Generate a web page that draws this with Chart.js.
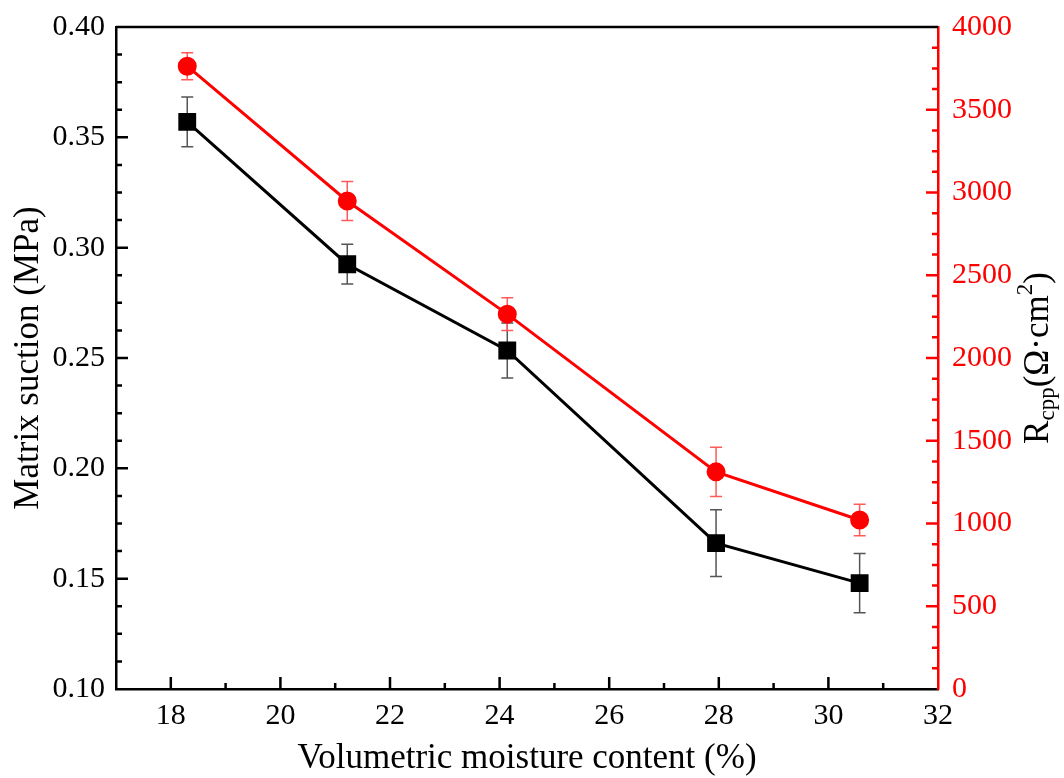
<!DOCTYPE html>
<html>
<head>
<meta charset="utf-8">
<title>Matrix suction and Rcpp vs moisture</title>
<script src="https://cdn.jsdelivr.net/npm/chart.js@4/dist/chart.umd.min.js"></script>
<style>
  html, body { margin: 0; padding: 0; background: #fff; }
  #wrap { width: 1064px; height: 778px; }
</style>
</head>
<body>
<div id="wrap"><canvas id="chart" width="1064" height="778"></canvas></div>
<script>
/* data ------------------------------------------------------------ */
const moisture    = [18.30, 21.22, 24.14, 27.95, 30.57];   // %
const suction     = [0.357, 0.2925, 0.2534, 0.1661, 0.148]; // MPa
const suctionErr  = [0.0113, 0.0090, 0.0125, 0.0151, 0.0134];
const rcpp        = [3763, 2949, 2265, 1312, 1021];         // Ω·cm²
const rcppErr     = [81, 118, 99, 149, 95];

const xTicks      = [18, 20, 22, 24, 26, 28, 30, 32];
const suctionTicks = [0.10, 0.15, 0.20, 0.25, 0.30, 0.35, 0.40];
const rcppTicks   = [0, 500, 1000, 1500, 2000, 2500, 3000, 3500, 4000];

const FONT = '"Liberation Serif", "Times New Roman", serif';
const RED = '#ff0000';

const pts = (xs, ys) => xs.map((x, i) => ({ x, y: ys[i] }));

// fixed axis box sizes, no extra label padding around the plot
const fitY = w => s => { s.width = w; s.paddingTop = 0; s.paddingBottom = 0; };
const fitX = h => s => { s.height = h; s.paddingLeft = 0; s.paddingRight = 0; };

/* error bars, drawn under the markers ------------------------------ */
const errorBars = {
  id: 'errorBars',
  beforeDatasetsDraw(chart) {
    const { ctx } = chart;
    const xs = chart.scales.x;
    chart.data.datasets.forEach(ds => {
      if (!ds.errors) return;
      const ys = chart.scales[ds.yAxisID];
      ctx.save();
      ctx.strokeStyle = ds.errorColor;
      ctx.lineWidth = 1.5;
      ds.data.forEach((p, i) => {
        const px = xs.getPixelForValue(p.x);
        const top = ys.getPixelForValue(p.y + ds.errors[i]);
        const bot = ys.getPixelForValue(p.y - ds.errors[i]);
        ctx.beginPath();
        ctx.moveTo(px, top); ctx.lineTo(px, bot);
        ctx.moveTo(px - 6, top); ctx.lineTo(px + 6, top);
        ctx.moveTo(px - 6, bot); ctx.lineTo(px + 6, bot);
        ctx.stroke();
      });
      ctx.restore();
    });
  }
};

/* inward ticks, top frame line, right axis title ------------------ */
const frame = {
  id: 'frame',
  afterDraw(chart) {
    const { ctx, chartArea: a } = chart;
    const { x, y, y2 } = chart.scales;
    ctx.save();
    ctx.lineWidth = 2.5;

    // top border
    ctx.strokeStyle = '#000';
    ctx.beginPath();
    ctx.moveTo(a.left, a.top); ctx.lineTo(a.right, a.top);
    ctx.stroke();

    // x ticks: major every 2, minor in between
    ctx.beginPath();
    for (let v = 18; v < 32; v += 1) {
      const px = x.getPixelForValue(v);
      const len = v % 2 === 0 ? 12 : 6;
      ctx.moveTo(px, a.bottom); ctx.lineTo(px, a.bottom - len);
    }
    // left y ticks: major 0.05, minor 0.0125
    for (let k = 1; k < 24; k++) {
      const v = 0.10 + k * 0.0125;
      const py = y.getPixelForValue(v);
      const len = k % 4 === 0 ? 12 : 6;
      ctx.moveTo(a.left, py); ctx.lineTo(a.left + len, py);
    }
    ctx.stroke();

    // right y ticks in red: major 500, minor 125
    ctx.strokeStyle = RED;
    ctx.beginPath();
    for (let k = 1; k < 32; k++) {
      const py = y2.getPixelForValue(k * 125);
      const len = k % 4 === 0 ? 12 : 6;
      ctx.moveTo(a.right, py); ctx.lineTo(a.right - len, py);
    }
    ctx.stroke();

    // right title: R_cpp(Ω·cm^2), rotated
    const big = '35px ' + FONT, small = '23px ' + FONT;
    const parts = [
      { t: 'R', f: big, dy: 0 },
      { t: 'cpp', f: small, dy: 9 },
      { t: '(Ω·cm', f: big, dy: 0 },
      { t: '2', f: small, dy: -13 },
      { t: ')', f: big, dy: 0 }
    ];
    let total = 0;
    parts.forEach(p => { ctx.font = p.f; p.w = ctx.measureText(p.t).width; total += p.w; });
    ctx.translate(1039, (a.top + a.bottom) / 2);
    ctx.rotate(-Math.PI / 2);
    ctx.fillStyle = '#000';
    ctx.textBaseline = 'middle';
    ctx.textAlign = 'left';
    let cx = -total / 2;
    parts.forEach(p => {
      ctx.font = p.f;
      ctx.fillText(p.t, cx, p.dy);
      cx += p.w;
    });
    ctx.restore();
  }
};

new Chart(document.getElementById('chart'), {
  type: 'line',
  data: {
    datasets: [
      {
        label: 'Matrix suction',
        data: pts(moisture, suction),
        errors: suctionErr,
        errorColor: '#555555',
        yAxisID: 'y',
        borderColor: '#000',
        backgroundColor: '#000',
        borderWidth: 3,
        pointStyle: 'rect',
        pointRadius: 10.5,
        pointHoverRadius: 10.5,
        tension: 0
      },
      {
        label: 'Rcpp',
        data: pts(moisture, rcpp),
        errors: rcppErr,
        errorColor: '#ff5a5a',
        yAxisID: 'y2',
        borderColor: RED,
        backgroundColor: RED,
        borderWidth: 3,
        pointStyle: 'circle',
        pointRadius: 8,
        pointHoverRadius: 8,
        tension: 0
      }
    ]
  },
  options: {
    responsive: false,
    animation: false,
    devicePixelRatio: 1,
    layout: { padding: { top: 27, left: 0, right: 0, bottom: 0 } },
    plugins: { legend: { display: false }, tooltip: { enabled: false } },
    scales: {
      x: {
        type: 'linear',
        min: 17, max: 32,
        afterBuildTicks: s => { s.ticks = xTicks.map(v => ({ value: v })); },
        afterFit: fitX(89),
        grid: { display: false, drawTicks: false },
        border: { display: true, color: '#000', width: 2.5 },
        ticks: { color: '#000', padding: 9, font: { family: FONT, size: 30 } },
        title: {
          display: true,
          text: 'Volumetric moisture content (%)',
          color: '#000',
          font: { family: FONT, size: 35, lineHeight: 1 },
          padding: { top: 0, bottom: 2 }
        }
      },
      y: {
        position: 'left',
        min: 0.10, max: 0.40,
        afterBuildTicks: s => { s.ticks = suctionTicks.map(v => ({ value: v })); },
        afterFit: fitY(116),
        grid: { display: false, drawTicks: false },
        border: { display: true, color: '#000', width: 2.5 },
        ticks: {
          color: '#000', padding: 11,
          font: { family: FONT, size: 30 },
          callback: v => v.toFixed(2)
        },
        title: {
          display: true,
          text: 'Matrix suction (MPa)',
          color: '#000',
          font: { family: FONT, size: 35, lineHeight: 1 },
          padding: { top: 11, bottom: 0 }
        }
      },
      y2: {
        position: 'right',
        min: 0, max: 4000,
        afterBuildTicks: s => { s.ticks = rcppTicks.map(v => ({ value: v })); },
        afterFit: fitY(126),
        grid: { display: false, drawTicks: false },
        border: { display: true, color: RED, width: 2.5 },
        ticks: {
          color: RED, padding: 14,
          font: { family: FONT, size: 30 },
          callback: v => String(v)
        }
      }
    }
  },
  plugins: [errorBars, frame]
});
</script>
</body>
</html>
